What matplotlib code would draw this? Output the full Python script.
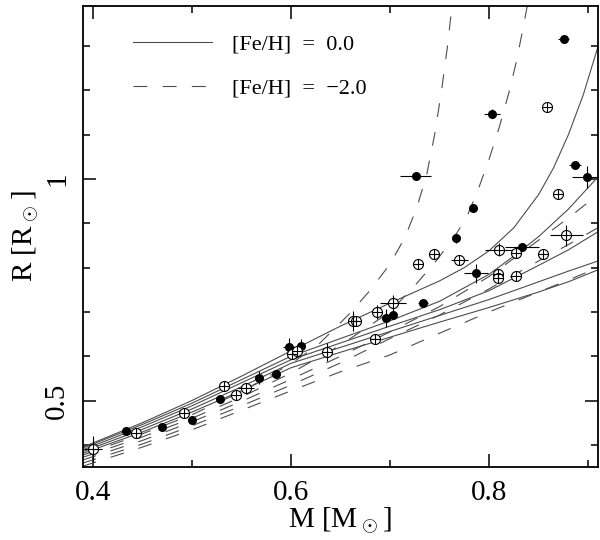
import numpy as np
import matplotlib
matplotlib.use("Agg")
import matplotlib.pyplot as plt
from matplotlib.ticker import MultipleLocator, FuncFormatter

plt.rcParams['font.family'] = ['Liberation Serif', 'DejaVu Serif']
plt.rcParams['mathtext.fontset'] = 'cm'
plt.rcParams['lines.scale_dashes'] = False

# isochrones, [Fe/H] = 0.0 (solid)
sA_x = [0.39, 0.45, 0.50, 0.55, 0.60, 0.65, 0.70, 0.75, 0.775, 0.80, 0.825, 0.85, 0.865, 0.88, 0.895, 0.91]
sA_y = [0.395, 0.450, 0.500, 0.555, 0.612, 0.668, 0.720, 0.770, 0.800, 0.838, 0.890, 0.965, 1.025, 1.100, 1.190, 1.300]
sB_x = [0.39, 0.45, 0.50, 0.55, 0.60, 0.65, 0.70, 0.75, 0.80, 0.825, 0.85, 0.88, 0.91]
sB_y = [0.393, 0.446, 0.494, 0.547, 0.600, 0.640, 0.680, 0.724, 0.785, 0.826, 0.870, 0.932, 1.005]
grid_x = [0.39, 0.45, 0.50, 0.55, 0.60, 0.65, 0.70, 0.75, 0.80, 0.85, 0.88, 0.91]
sC_y = [0.389, 0.441, 0.488, 0.540, 0.592, 0.630, 0.668, 0.705, 0.748, 0.805, 0.840, 0.881]
sD_y = [0.385, 0.435, 0.481, 0.531, 0.584, 0.620, 0.656, 0.692, 0.728, 0.768, 0.792, 0.815]
sE_y = [0.381, 0.429, 0.474, 0.522, 0.574, 0.609, 0.643, 0.677, 0.710, 0.745, 0.768, 0.795]

# isochrones, [Fe/H] = -2.0 (dashed)
d1_x = [0.39, 0.45, 0.50, 0.55, 0.60, 0.627, 0.643, 0.660, 0.680, 0.700, 0.715, 0.727, 0.737, 0.745, 0.752, 0.758, 0.763]
d1_y = [0.377, 0.425, 0.468, 0.520, 0.583, 0.625, 0.660, 0.698, 0.749, 0.808, 0.868, 0.935, 1.010, 1.100, 1.200, 1.300, 1.400]
d2_x = [0.39, 0.45, 0.50, 0.55, 0.60, 0.65, 0.70, 0.7272, 0.7473, 0.7674, 0.7775, 0.7876, 0.800, 0.810, 0.820, 0.828, 0.835, 0.841]
d2_y = [0.372, 0.418, 0.460, 0.508, 0.562, 0.625, 0.700, 0.765, 0.817, 0.878, 0.915, 0.968, 1.045, 1.115, 1.195, 1.270, 1.350, 1.420]
d3_y = [0.366, 0.410, 0.452, 0.498, 0.548, 0.600, 0.655, 0.712, 0.780, 0.862, 0.912, 0.965]
d4_y = [0.359, 0.402, 0.443, 0.488, 0.535, 0.585, 0.640, 0.693, 0.752, 0.815, 0.852, 0.890]
d5_y = [0.352, 0.395, 0.434, 0.478, 0.522, 0.565, 0.603, 0.652, 0.700, 0.745, 0.772, 0.800]

# filled symbols
fill_m = [0.434, 0.470, 0.500, 0.528, 0.568, 0.585, 0.598, 0.610, 0.696, 0.703, 0.733, 0.726, 0.767, 0.784, 0.787, 0.803, 0.833, 0.875, 0.887, 0.899]
fill_r = [0.432, 0.441, 0.457, 0.504, 0.552, 0.560, 0.621, 0.623, 0.687, 0.694, 0.720, 1.007, 0.866, 0.935, 0.787, 1.147, 0.847, 1.315, 1.031, 1.004]
fill_me = [0, 0, 0, 0, 0, 0, 0.006, 0, 0, 0, 0.005, 0.0155, 0, 0.004, 0.012, 0.008, 0.017, 0.006, 0.006, 0.015]
fill_re = [0, 0, 0, 0, 0.015, 0, 0.02, 0.015, 0.02, 0.01, 0, 0, 0.01, 0, 0.022, 0.01, 0, 0, 0, 0.025]

# open symbols
open_m = [0.400, 0.444, 0.492, 0.532, 0.545, 0.555, 0.601, 0.606, 0.636, 0.663, 0.666, 0.685, 0.687, 0.703, 0.728, 0.744,
          0.770, 0.809, 0.809, 0.810, 0.827, 0.827, 0.854, 0.858, 0.869, 0.878]
open_r = [0.391, 0.427, 0.471, 0.533, 0.513, 0.528, 0.604, 0.611, 0.609, 0.680, 0.680, 0.639, 0.700, 0.719, 0.807, 0.830,
          0.817, 0.786, 0.776, 0.840, 0.832, 0.781, 0.830, 1.161, 0.965, 0.873]
open_me = [0.009, 0, 0, 0, 0, 0.008, 0, 0, 0, 0, 0, 0, 0, 0.013, 0, 0,
           0.009, 0, 0, 0.014, 0, 0, 0, 0.005, 0, 0.017]
open_re = [0.03, 0, 0.01, 0.01, 0, 0, 0, 0, 0.02, 0.022, 0, 0, 0.015, 0.02, 0, 0,
           0, 0, 0, 0.015, 0, 0, 0, 0, 0, 0.024]

fig = plt.figure(figsize=(6.0, 5.4), dpi=100)
ax = fig.add_axes([0.138, 0.135, 0.859, 0.854])

lc = '0.3'
lw = 0.8
dash = (0, (10, 11))
ax.plot(sA_x, sA_y, color=lc, lw=lw, label='[Fe/H]  =  0.0')
ax.plot(sB_x, sB_y, color=lc, lw=lw)
for yy in [sC_y, sD_y, sE_y]:
    ax.plot(grid_x, yy, color=lc, lw=lw)
ax.plot(d1_x, d1_y, color=lc, lw=lw, ls=dash, label='[Fe/H]  =  \u22122.0')
ax.plot(d2_x, d2_y, color=lc, lw=lw, ls=dash)
for yy in [d3_y, d4_y, d5_y]:
    ax.plot(grid_x, yy, color=lc, lw=lw, ls=dash)

ax.errorbar(fill_m, fill_r, xerr=fill_me, yerr=fill_re, fmt='none', ecolor='k', elinewidth=0.8, capsize=0)
ax.errorbar(open_m, open_r, xerr=open_me, yerr=open_re, fmt='none', ecolor='k', elinewidth=0.8, capsize=0)
ax.plot(fill_m, fill_r, 'o', color='k', ms=6.5, mew=0, zorder=5)
ax.plot(open_m, open_r, 'o', mfc='white', mec='k', ms=7.2, mew=0.8, zorder=5)
ax.plot(open_m, open_r, '+', color='k', ms=7.2, mew=0.8, zorder=6)

ax.set_xlim(0.39, 0.91)
ax.set_ylim(0.35, 1.39)
ax.xaxis.set_major_locator(MultipleLocator(0.2))
ax.xaxis.set_minor_locator(MultipleLocator(0.1))
ax.yaxis.set_major_locator(MultipleLocator(0.5))
ax.yaxis.set_minor_locator(MultipleLocator(0.1))
fmt = FuncFormatter(lambda v, p: '%g' % round(v, 3))
ax.xaxis.set_major_formatter(fmt)
ax.yaxis.set_major_formatter(fmt)
ax.tick_params(which='both', direction='in', top=True, right=True, width=1.1, labelsize=21)
ax.tick_params(which='major', length=9.5, pad=9)
ax.tick_params(which='minor', length=5)
ax.tick_params(axis='y', labelrotation=90)
for t in ax.get_yticklabels():
    t.set_va('center')
for s in ax.spines.values():
    s.set_linewidth(1.3)

ax.set_xlabel(r'M [M$_\odot$]', fontsize=21, labelpad=0)
ax.set_ylabel(r'R [R$_\odot$]', fontsize=21, labelpad=2)

ax.legend(loc='upper left', bbox_to_anchor=(0.097, 0.939), frameon=False, fontsize=16,
          handlelength=3.55, handletextpad=0.9, labelspacing=1.05, borderpad=0, borderaxespad=0)

fig.savefig('out.png', dpi=100)
